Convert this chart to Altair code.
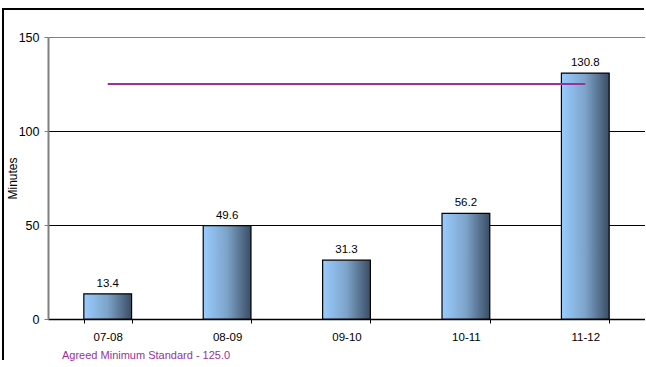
import altair as alt
import pandas as pd

# Response times by year
years = ["07-08", "08-09", "09-10", "10-11", "11-12"]
minutes = [13.4, 49.6, 31.3, 56.2, 130.8]

standard_value = 125.0
standard_label = "Agreed Minimum Standard - 125.0"

bars_df = pd.DataFrame({"year": years, "minutes": minutes})
standard_df = pd.DataFrame({"year": [years[0], years[-1]], "minutes": [standard_value, standard_value]})

FONT = "Liberation Sans"
PURPLE = "#993399"

x_enc = alt.X(
    "year:N",
    sort=years,
    title=None,
    scale=alt.Scale(paddingInner=0.6, paddingOuter=0.3),
    axis=alt.Axis(
        labelAngle=0,
        labelFontSize=11.5,
        labelColor="black",
        labelPadding=8,
        tickBand="extent",
        tickSize=4,
        tickColor="black",
        domainColor="black",
        domainWidth=1.5,
        grid=False,
    ),
)

y_enc = alt.Y(
    "minutes:Q",
    title="Minutes",
    scale=alt.Scale(domain=[0, 150], nice=False),
    axis=alt.Axis(
        values=[0, 50, 100, 150],
        labelFontSize=12.5,
        labelColor="black",
        labelPadding=5,
        tickSize=4,
        tickColor="#808080",
        domainColor="#808080",
        domainWidth=2,
        grid=True,
        gridColor=alt.condition(alt.datum.value == 150, alt.value("#808080"), alt.value("black")),
        gridWidth=1,
        titleFontSize=12,
        titleFontWeight="normal",
        titleColor="black",
        titleX=-29,
        titlePadding=0,
    ),
)

gradient = alt.Gradient(
    gradient="linear",
    x1=0, x2=1, y1=0, y2=0,
    stops=[
        alt.GradientStop(color="#99ccff", offset=0),
        alt.GradientStop(color="#7da3c9", offset=0.5),
        alt.GradientStop(color="#3a4d65", offset=1),
    ],
)

bars = alt.Chart(bars_df).mark_bar(
    fill=gradient, stroke="black", strokeWidth=1.2
).encode(x=x_enc, y=y_enc)

labels = alt.Chart(bars_df).mark_text(
    dy=-10, fontSize=11.5, font=FONT, color="black"
).encode(
    x=alt.X("year:N", sort=years),
    y="minutes:Q",
    text=alt.Text("minutes:Q", format=".1f"),
)

standard_line = alt.Chart(standard_df).mark_line(
    color=PURPLE, strokeWidth=1.8
).encode(x=alt.X("year:N", sort=years), y="minutes:Q")

standard_text = alt.Chart(pd.DataFrame({"t": [standard_label]})).mark_text(
    align="left", baseline="middle", fontSize=11, font=FONT, color=PURPLE
).encode(x=alt.value(14), y=alt.value(319), text="t:N")

# outer chart frame drawn as thin filled strips along the top and left edges
frame_top = alt.Chart(pd.DataFrame({"a": [0]})).mark_rect(
    fill="black", strokeWidth=0
).encode(x=alt.value(-46), x2=alt.value(596), y=alt.value(-29), y2=alt.value(-27))

frame_left = alt.Chart(pd.DataFrame({"a": [0]})).mark_rect(
    fill="black", strokeWidth=0
).encode(x=alt.value(-46), x2=alt.value(-44), y=alt.value(-29), y2=alt.value(323))

chart = (
    alt.layer(frame_top, frame_left, bars, labels, standard_line, standard_text)
    .properties(
        width=597,
        height=282,
        autosize=alt.AutoSizeParams(type="none"),
        padding={"left": 48, "top": 37, "right": 0, "bottom": 42},
        background="white",
    )
    .configure_view(stroke=None)
    .configure_axis(labelFont=FONT, titleFont=FONT)
    .configure_text(font=FONT)
)

chart.save("out.html", embed_options={"renderer": "svg", "actions": False})
